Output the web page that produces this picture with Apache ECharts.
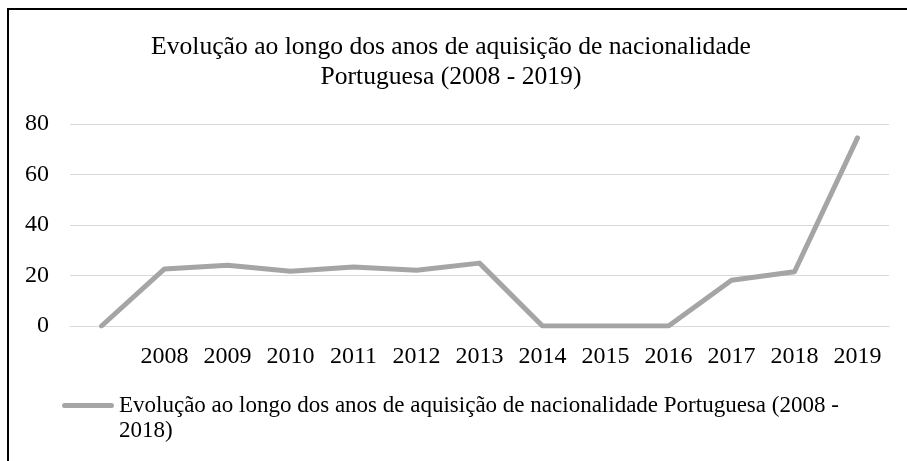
<!DOCTYPE html>
<html>
<head>
<meta charset="utf-8">
<script src="https://cdn.jsdelivr.net/npm/echarts@6/dist/echarts.min.js"></script>
<style>
html,body{margin:0;padding:0;background:#fff;}
#chart{width:907px;height:461px;}
</style>
</head>
<body>
<div id="chart"></div>
<script>
const categories = ['', '2008', '2009', '2010', '2011', '2012', '2013', '2014', '2015', '2016', '2017', '2018', '2019'];
const values = [0, 22.6, 24.1, 21.7, 23.4, 22.1, 24.9, 0, 0, 0, 18.1, 21.5, 74.5];
const yTicks = [0, 20, 40, 60, 80];
const titleText = 'Evolução ao longo dos anos de aquisição de nacionalidade\nPortuguesa (2008 - 2019)';
const seriesName = 'Evolução ao longo dos anos de aquisição de nacionalidade Portuguesa (2008 - 2018)';

const FONT = '"Liberation Serif", "Times New Roman", serif';
// legend icon: rounded bar aligned with the first text line (bounding box spans both lines)
const legendIcon = 'path://M0,0h0.01v0.01h-0.01z M2.5,10h47a2.5,2.5 0 0 1 0,5h-47a2.5,2.5 0 0 1 0,-5z M0,50h0.01v0.01h-0.01z';
const chart = echarts.init(document.getElementById('chart'));
chart.setOption({
  backgroundColor: '#ffffff',
  animation: false,
  title: {
    text: titleText,
    left: 446,
    textAlign: 'center',
    top: 27,
    textStyle: { fontFamily: FONT, fontSize: 25.6, fontWeight: 'normal', color: '#000', lineHeight: 30 }
  },
  legend: {
    left: 57,
    top: 388,
    padding: 5,
    icon: legendIcon,
    itemWidth: 52,
    itemHeight: 50,
    itemGap: 0,
    itemStyle: { color: '#A5A5A5', borderWidth: 0 },
    data: [seriesName],
    formatter: name => name.replace('(2008 - ', '(2008 -\n'),
    textStyle: {
      fontFamily: FONT, fontSize: 23, color: '#000', lineHeight: 25
    }
  },
  grid: { left: 70, right: 18, top: 124, bottom: 135 },
  xAxis: {
    type: 'category',
    data: categories,
    boundaryGap: true,
    axisLine: { show: true, lineStyle: { color: '#D9D9D9', width: 1 } },
    axisTick: { show: false },
    axisLabel: { fontFamily: FONT, fontSize: 24, color: '#000', margin: 19, interval: 0 }
  },
  yAxis: {
    type: 'value',
    min: yTicks[0],
    max: yTicks[yTicks.length - 1],
    interval: yTicks[1] - yTicks[0],
    axisLine: { show: false },
    axisTick: { show: false },
    axisLabel: { fontFamily: FONT, fontSize: 24, color: '#000', margin: 21 },
    splitLine: { lineStyle: { color: '#D9D9D9', width: 1 } }
  },
  series: [{
    name: seriesName,
    type: 'line',
    data: values,
    symbol: 'none',
    lineStyle: { color: '#A5A5A5', width: 5, cap: 'round', join: 'round' },
    itemStyle: { color: '#A5A5A5' }
  }],
  graphic: [
    { type: 'line', shape: { x1: 8, y1: 9, x2: 907, y2: 9 }, style: { stroke: '#000', lineWidth: 2 } },
    { type: 'line', shape: { x1: 8, y1: 8, x2: 8, y2: 461 }, style: { stroke: '#000', lineWidth: 2 } }
  ]
});
</script>
</body>
</html>
